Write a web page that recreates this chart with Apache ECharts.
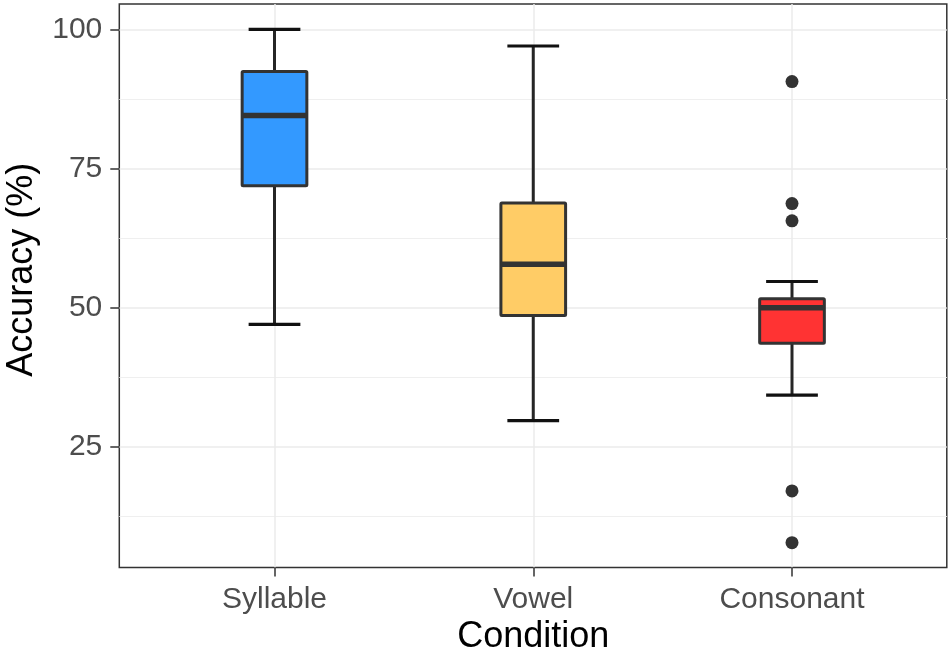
<!DOCTYPE html>
<html>
<head>
<meta charset="utf-8">
<script src="https://cdn.jsdelivr.net/npm/echarts@6/dist/echarts.min.js"></script>
<style>
html,body{margin:0;padding:0;background:#fff;}
#chart{width:952px;height:659px;}
</style>
</head>
<body>
<div id="chart"></div>
<script>
// ---- data ----
const CATEGORIES = ['Syllable', 'Vowel', 'Consonant'];
// [lower whisker, Q1, median, Q3, upper whisker]
const SYLLABLE = [47.0, 71.9, 84.5, 92.4, 100.0];
const VOWEL = [29.7, 48.6, 57.8, 68.8, 97.0];
const CONSONANT = [34.3, 43.6, 50.0, 51.6, 54.7];
const CONSONANT_OUTLIERS = [90.6, 68.7, 65.6, 17.1, 7.8];
const Y_TICKS = [25, 50, 75, 100];
const Y_MINOR = [12.5, 37.5, 62.5, 87.5];
const Y_MIN = 3.34, Y_MAX = 104.54;
const FILLS = ['#3399FF', '#FFCC66', '#FF3333'];

const BOX_WIDTH = 0.25, CAP_WIDTH = 0.2;
const FONT = "'Liberation Sans', Arial, sans-serif";

const boxData = [SYLLABLE, VOWEL, CONSONANT].map((s, i) => [i].concat(s));
const outlierData = CONSONANT_OUTLIERS.map(v => [2, v]);

function renderBox(params, api) {
  const x = api.value(0);
  const lo = api.coord([x, api.value(1)]);
  const q1 = api.coord([x, api.value(2)]);
  const med = api.coord([x, api.value(3)]);
  const q3 = api.coord([x, api.value(4)]);
  const hi = api.coord([x, api.value(5)]);
  const band = api.size([1, 0])[0];
  const bw = band * BOX_WIDTH, cw = band * CAP_WIDTH;
  const cx = lo[0];
  const dark = '#333333', line = '#262626';
  return {
    type: 'group',
    children: [
      {type: 'line', shape: {x1: cx, y1: hi[1], x2: cx, y2: lo[1]}, style: {stroke: line, lineWidth: 3}},
      {type: 'line', shape: {x1: cx - cw / 2, y1: hi[1], x2: cx + cw / 2, y2: hi[1]}, style: {stroke: '#111111', lineWidth: 3.2}},
      {type: 'line', shape: {x1: cx - cw / 2, y1: lo[1], x2: cx + cw / 2, y2: lo[1]}, style: {stroke: '#111111', lineWidth: 3.2}},
      {type: 'rect', shape: {x: cx - bw / 2, y: q3[1], width: bw, height: q1[1] - q3[1], r: 1},
        style: {fill: FILLS[params.dataIndex], stroke: dark, lineWidth: 3}},
      {type: 'line', shape: {x1: cx - bw / 2, y1: med[1], x2: cx + bw / 2, y2: med[1]}, style: {stroke: dark, lineWidth: 5.5}}
    ]
  };
}

const chart = echarts.init(document.getElementById('chart'), null, {renderer: 'canvas'});
chart.setOption({
  animation: false,
  backgroundColor: '#ffffff',
  textStyle: {fontFamily: FONT},
  grid: [
    {left: 119.3, top: 4, width: 827.5, height: 563.5, show: true, borderColor: '#333333', borderWidth: 1.5,
      backgroundColor: '#ffffff', containLabel: false, outerBoundsMode: 'none'},
    {left: 274.5, top: 4, width: 517.5, height: 563.5, containLabel: false, outerBoundsMode: 'none'}
  ],
  xAxis: [
    {gridIndex: 0, type: 'value', min: 0, max: 1, show: false},
    {gridIndex: 1, type: 'category', data: CATEGORIES, boundaryGap: false,
      axisLine: {show: false},
      axisTick: {show: true, length: 9, lineStyle: {color: '#333333', width: 1.5}},
      axisLabel: {interval: 0, fontSize: 30, color: '#4D4D4D', margin: 17, fontFamily: FONT},
      splitLine: {show: true, interval: 0, lineStyle: {color: '#EBEBEB', width: 1.5}},
      name: 'Condition', nameLocation: 'middle', nameGap: 50,
      nameTextStyle: {fontSize: 36, color: '#000000', fontFamily: FONT}
    }
  ],
  yAxis: [
    {gridIndex: 0, type: 'value', min: Y_MIN, max: Y_MAX,
      axisLine: {show: false},
      axisTick: {show: true, length: 9, customValues: Y_TICKS, lineStyle: {color: '#333333', width: 1.5}},
      axisLabel: {customValues: Y_TICKS, fontSize: 30, color: '#4D4D4D', margin: 17, fontFamily: FONT},
      splitLine: {show: true, lineStyle: {color: '#EBEBEB', width: 1.5}},
      name: 'Accuracy (%)', nameLocation: 'middle', nameGap: 79,
      nameTextStyle: {fontSize: 36, color: '#000000', fontFamily: FONT, padding: [0, 0, 0, 32]}
    },
    {gridIndex: 0, type: 'value', min: Y_MIN, max: Y_MAX, position: 'right',
      axisLine: {show: false},
      axisTick: {show: false, customValues: Y_MINOR},
      axisLabel: {show: false, customValues: Y_MINOR},
      splitLine: {show: true, lineStyle: {color: '#EFEFEF', width: 1}}
    },
    {gridIndex: 1, type: 'value', min: Y_MIN, max: Y_MAX, show: false}
  ],
  series: [
    {type: 'custom', xAxisIndex: 1, yAxisIndex: 2, data: boxData,
      encode: {x: 0, y: [1, 2, 3, 4, 5]}, renderItem: renderBox, z: 5},
    {type: 'scatter', xAxisIndex: 1, yAxisIndex: 2, data: outlierData,
      symbol: 'circle', symbolSize: 13, itemStyle: {color: '#333333', opacity: 1}, z: 6}
  ]
});
</script>
</body>
</html>
